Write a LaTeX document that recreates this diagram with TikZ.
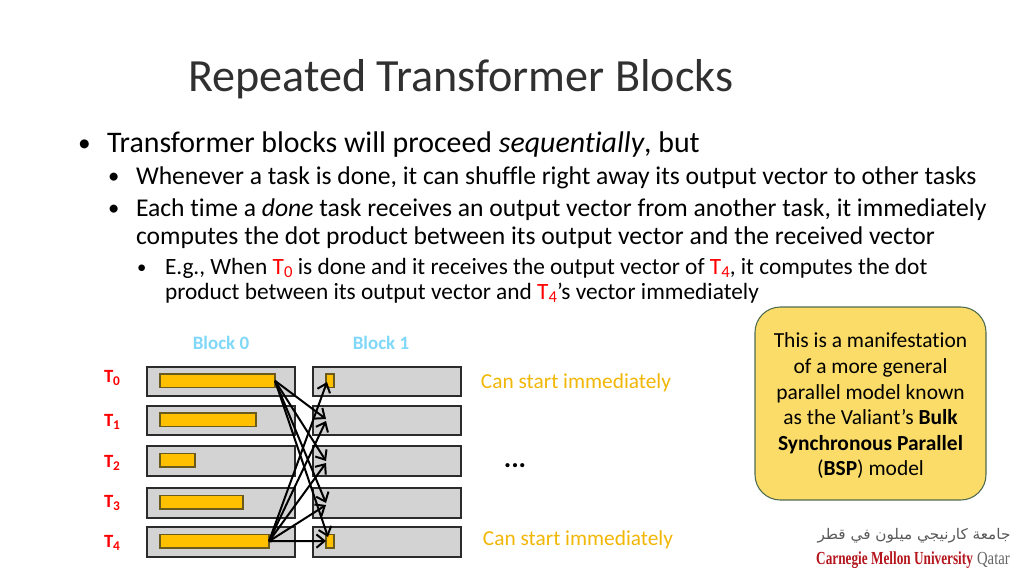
\documentclass[tikz,border=0pt]{standalone}
\usepackage{fontspec}
\setmainfont[Ligatures=NoCommon]{Carlito}
\newfontfamily\arabfont[Script=Arabic]{DejaVu Sans}
\newfontfamily\logofont{Liberation Serif}
\TeXXeTstate=1
\usetikzlibrary{arrows.meta}
\definecolor{barfill}{HTML}{FFC000}
\definecolor{barline}{HTML}{6B5A1E}
\definecolor{rowfill}{HTML}{D3D3D3}
\definecolor{rowline}{HTML}{2B2B2B}
\definecolor{noteyellow}{HTML}{FBDC68}
\definecolor{noteline}{HTML}{4F6B4F}
\definecolor{skyc}{HTML}{7FD8F8}
\definecolor{goldc}{HTML}{F2B705}
\definecolor{titlec}{HTML}{303030}
\newcommand{\lowered}[2]{\raisebox{-0.35ex}{\fontsize{#1}{#1}\selectfont #2}}
\tikzset{
  x=0.75pt,y=-0.75pt,
  txt/.style={anchor=base west,inner sep=0pt,outer sep=0pt,text=black},
  rowbox/.style={draw=rowline,fill=rowfill,line width=0.9pt,inner sep=0pt,outer sep=0pt,anchor=north west},
  barbox/.style={draw=barline,fill=barfill,line width=0.8pt,inner sep=0pt,outer sep=0pt,anchor=north west},
  tlabel/.style={text=red,font=\fontsize{14}{16}\selectfont\bfseries,inner sep=0pt,anchor=center},
  blocklabel/.style={text=skyc,font=\fontsize{14.2}{16}\selectfont\bfseries,inner sep=0pt,anchor=center},
  startlabel/.style={text=goldc,font=\fontsize{16}{19}\selectfont,inner sep=0pt,anchor=center},
  conn/.style={-{Straight Barb[length=6pt,width=10pt,line width=1.5pt]},line width=1.5pt,black},
}
\newcommand{\rowrect}[5]{\node[rowbox,minimum width=#4*0.75pt,minimum height=#5*0.75pt] (#1) at (#2,#3) {};}
\begin{document}
\begin{tikzpicture}
\useasboundingbox (0,0) rectangle (1024,576);
\fill[white] (0,0) rectangle (1024,576);
% title
\node[txt,text=titlec,font=\fontsize{34.6}{40}\selectfont] (title) at (188,91.5) {Repeated Transformer Blocks};
% bullets
\node[txt,font=\fontsize{19}{24}\selectfont] (b1d) at (78,151) {•};
\node[txt,font=\fontsize{22.4}{26}\selectfont] (b1) at (107,152) {Transformer blocks will proceed \textit{sequentially}, but};
\node[txt,font=\fontsize{17}{22}\selectfont] (b2d) at (108,183) {•};
\node[txt,font=\fontsize{19.2}{23}\selectfont] (b2) at (136,184) {Whenever a task is done, it can shuffle right away its output vector to other tasks};
\node[txt,font=\fontsize{17}{22}\selectfont] (b3d) at (108,215) {•};
\node[txt,font=\fontsize{19.2}{23}\selectfont] (b3) at (136,216) {Each time a \textit{done} task receives an output vector from another task, it immediately};
\node[txt,font=\fontsize{19.2}{23}\selectfont] (b3b) at (136,244) {computes the dot product between its output vector and the received vector};
\node[txt,font=\fontsize{14}{19}\selectfont] (b4d) at (137,273) {•};
\node[txt,font=\fontsize{17.5}{21}\selectfont] (b4) at (165,274) {E.g., When \textcolor{red}{T\lowered{12.5}{0}} is done and it receives the output vector of \textcolor{red}{T\lowered{12.5}{4}}, it computes the dot};
\node[txt,font=\fontsize{17.5}{21}\selectfont] (b4b) at (165,299) {product between its output vector and \textcolor{red}{T\lowered{12.5}{4}}’s vector immediately};
% callout
\node[draw=noteline,fill=noteyellow,line width=0.8pt,rounded corners=19pt,minimum width=231*0.75pt,minimum height=193*0.75pt,inner sep=0pt,anchor=north west,outer sep=0pt] (note) at (755,307) {};
\node[anchor=center,align=center,inner sep=0pt,font=\fontsize{16.1}{19.2}\selectfont] (notetext) at (870.5,406) {This is a manifestation\\of a more general\\parallel model known\\as the Valiant’s \textbf{Bulk}\\\textbf{Synchronous Parallel}\\(\textbf{BSP}) model};
% headers
\node[blocklabel] (h0) at (221,343) {Block 0};
\node[blocklabel] (h1) at (381,343) {Block 1};
% T labels
\node[tlabel] (t0) at (112,378) {T\lowered{10}{0}};
\node[tlabel] (t1) at (112,422) {T\lowered{10}{1}};
\node[tlabel] (t2) at (112,463) {T\lowered{10}{2}};
\node[tlabel] (t3) at (112,503) {T\lowered{10}{3}};
\node[tlabel] (t4) at (112,543) {T\lowered{10}{4}};
% rows block 0
\rowrect{a0}{147}{367}{148}{29}
\rowrect{a1}{147}{406}{148}{29}
\rowrect{a2}{147}{446}{148}{30}
\rowrect{a3}{147}{488}{148}{30}
\rowrect{a4}{147}{527}{148}{30}
% rows block 1
\rowrect{c0}{313}{367}{148}{29}
\rowrect{c1}{313}{406}{148}{29}
\rowrect{c2}{313}{446}{148}{30}
\rowrect{c3}{313}{488}{148}{30}
\rowrect{c4}{313}{527}{148}{30}
% bars
\node[barbox,minimum width=115*0.75pt,minimum height=13.5*0.75pt] (p0) at (160,374) {};
\node[barbox,minimum width=96*0.75pt,minimum height=13.5*0.75pt] (p1) at (160,413) {};
\node[barbox,minimum width=35*0.75pt,minimum height=13.5*0.75pt] (p2) at (160,453.5) {};
\node[barbox,minimum width=83*0.75pt,minimum height=13.5*0.75pt] (p3) at (160,495.5) {};
\node[barbox,minimum width=109*0.75pt,minimum height=13.5*0.75pt] (p4) at (160,534.5) {};
\node[barbox,minimum width=8*0.75pt,minimum height=13.5*0.75pt] (q0) at (326,374) {};
\node[barbox,minimum width=8*0.75pt,minimum height=13.5*0.75pt] (q4) at (326,534.5) {};
% connector targets
\coordinate (e1a) at (326,419);
\coordinate (e1b) at (326,421);
\coordinate (e2a) at (326,461);
\coordinate (e2b) at (326,463);
\coordinate (e3a) at (326,503);
\coordinate (e3b) at (326,505);
\coordinate (e0) at (327,382);
\coordinate (e4) at (328,537);
\coordinate (e5) at (326,541);
% connectors
\draw[conn] (p0.east) -- (e1a);
\draw[conn] (p0.east) -- (e2a);
\draw[conn] (p0.east) -- (e3a);
\draw[conn] (p0.east) -- (e4);
\draw[conn] (p4.east) -- (e0);
\draw[conn] (p4.east) -- (e1b);
\draw[conn] (p4.east) -- (e2b);
\draw[conn] (p4.east) -- (e3b);
\draw[conn] (p4.east) -- (e5);
% side labels
\node[startlabel] (s0) at (576,383) {Can start immediately};
\node[startlabel] (s4) at (578,539.5) {Can start immediately};
\node[anchor=center,inner sep=0pt,font=\fontsize{21}{22}\selectfont\bfseries] (dots) at (515,466) {...};
% logo
\node[anchor=center,inner sep=0pt,text=black!65,xscale=1.04] (logoar) at (914,536) {\arabfont\fontsize{11}{12}\selectfont\beginR جامعة كارنيجي ميلون في قطر\endR};
\node[anchor=base west,inner sep=0pt,xscale=0.72] (logoen) at (816,564) {\logofont\fontsize{13.8}{15}\selectfont\textcolor[HTML]{B5161E}{\textbf{Carnegie Mellon University}}};
\node[anchor=base east,inner sep=0pt,xscale=0.8] (logoq) at (1010,564) {\logofont\fontsize{13.8}{15}\selectfont\textcolor[HTML]{666666}{Qatar}};
\end{tikzpicture}
\end{document}
